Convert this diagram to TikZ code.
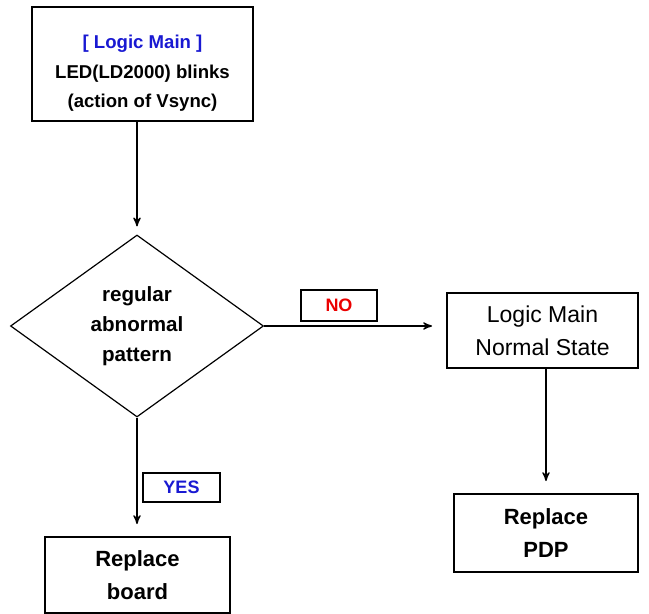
\documentclass[tikz,border=0pt]{standalone}
\usepackage{fontspec}
\setsansfont{Liberation Sans}
\usetikzlibrary{arrows,positioning,shapes.geometric}
\definecolor{tagblue}{RGB}{25,25,210}
\definecolor{tagred}{RGB}{235,0,0}
\tikzset{
    %Define standard arrow tip
    >=stealth',
    %Define style for boxes
    box/.style={
           rectangle,
           draw=black, line width=0.9pt,
           align=center,
           inner sep=0pt,
           font=\sffamily\bfseries\fontsize{11}{16.5}\selectfont},
    decision/.style={
           diamond,
           draw=black, line width=0.6pt,
           aspect=1.39,
           inner sep=0pt,
           align=center,
           font=\sffamily\bfseries\fontsize{10.3}{15}\selectfont},
    tag/.style={
           rectangle,
           draw=black, line width=0.8pt,
           inner sep=0pt,
           font=\sffamily\bfseries\fontsize{9}{10}\selectfont},
    % Define arrow style
    arr/.style={
           ->,
           line width=0.65pt,
           shorten >=6pt,}
}
\begin{document}
\begin{tikzpicture}[x=0.5pt,y=-0.5pt]
  \useasboundingbox (0,0) rectangle (649,614);
  \node[box, minimum width=110.5pt, minimum height=57pt,
        font=\sffamily\bfseries\fontsize{9.3}{14.75}\selectfont]
    (blink) at (142.5,64)
    {\raisebox{-4.25pt}[\height][\depth]{\begin{tabular}{@{}c@{}}
      \textcolor{tagblue}{[ Logic Main ]}\\LED(LD2000) blinks\\(action of Vsync)
     \end{tabular}}};
  \node[decision, minimum width=126.5pt, minimum height=91pt] (pattern) at (137,326)
    {regular\\abnormal\\pattern};
  \node[box, minimum width=95.5pt, minimum height=37.5pt, font=\sffamily\fontsize{11.5}{16.5}\selectfont]
    (normal) at (542.5,330.5) {Logic Main\\Normal State};
  \node[box, minimum width=92pt, minimum height=39pt] (pdp) at (546,533) {Replace\\PDP};
  \node[box, minimum width=92.5pt, minimum height=38pt] (board) at (137.5,575) {Replace\\board};
  % answer tags
  \node[tag, minimum width=38pt, minimum height=15.5pt, text=tagred] (no) at (339,305.5) {NO};
  \node[tag, minimum width=38.5pt, minimum height=14.5pt, text=tagblue] (yes) at (181.5,487.5) {YES};
  % connectors
  \draw[arr, shorten >=4pt] (blink.south -| pattern.north) -- (pattern.north);
  \draw[arr, shorten >=7pt] (pattern.east) -- (pattern.east -| normal.west);
  \draw[arr] (normal.south -| pdp.north) -- (pdp.north);
  \draw[arr] (pattern.south) -- (pattern.south |- board.north);
\end{tikzpicture}
\end{document}
